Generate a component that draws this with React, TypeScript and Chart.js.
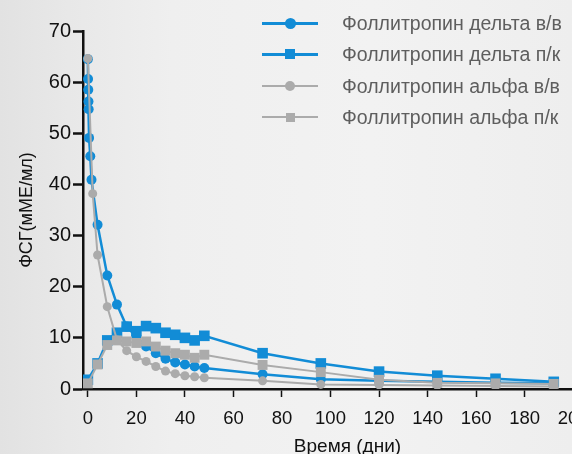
import React, { useEffect, useRef } from "react";
import { Chart, registerables } from "chart.js";
Chart.register(...registerables);

// ---- data ----
const xTickValues = [0, 20, 40, 60, 80, 100, 120, 140, 160, 180, 200];
const yTickValues = [0, 10, 20, 30, 40, 50, 60, 70];

const deltaIvDays = [0, 0.08, 0.17, 0.25, 0.33, 0.5, 1, 1.5, 4, 8, 12, 16, 20, 24, 28, 32, 36, 40, 44, 48, 72, 96, 120, 144, 168, 192];
const deltaIvValues = [64.5, 60.6, 58.5, 56.2, 54.7, 49.1, 45.5, 40.9, 32.1, 22.2, 16.5, 12.2, 10.2, 8.3, 7.0, 5.9, 5.2, 4.8, 4.4, 4.1, 2.9, 1.9, 1.6, 1.4, 1.2, 1.1];

const scDays = [0, 4, 8, 12, 16, 20, 24, 28, 32, 36, 40, 44, 48, 72, 96, 120, 144, 168, 192];
const deltaScValues = [1.8, 5.0, 9.5, 11.0, 12.2, 11.3, 12.3, 11.9, 11.0, 10.6, 10.0, 9.5, 10.4, 7.0, 5.0, 3.4, 2.6, 2.0, 1.4];
const alphaScValues = [1.1, 4.8, 8.6, 9.5, 9.3, 9.0, 9.3, 8.3, 7.5, 7.0, 6.7, 6.1, 6.7, 4.7, 3.3, 1.8, 1.2, 1.1, 1.0];

const alphaIvDays = [0, 2, 4, 8, 12, 16, 20, 24, 28, 32, 36, 40, 44, 48, 72, 96, 120, 144, 168, 192];
const alphaIvValues = [64.6, 38.2, 26.2, 16.1, 9.6, 7.5, 6.3, 5.4, 4.4, 3.5, 3.0, 2.6, 2.4, 2.2, 1.6, 0.9, 0.8, 0.7, 0.6, 0.5];

const seriesNames = [
  "Фоллитропин дельта в/в",
  "Фоллитропин дельта п/к",
  "Фоллитропин альфа в/в",
  "Фоллитропин альфа п/к",
];
const xTitle = "Время (дни)";
const yTitle = "ФСГ(мМЕ/мл)";

const BLUE = "#128cd6";
const GRAY = "#ababab";
const FONT = "'Liberation Sans', Arial, Helvetica, sans-serif";

const toPts = (xs: number[], ys: number[]) => xs.map((x, i) => ({ x, y: ys[i] }));

const legendItems = [
  { name: seriesNames[0], color: BLUE, shape: "circle", lw: 3, size: 11 },
  { name: seriesNames[1], color: BLUE, shape: "rect", lw: 3, size: 10 },
  { name: seriesNames[2], color: GRAY, shape: "circle", lw: 2, size: 10 },
  { name: seriesNames[3], color: GRAY, shape: "rect", lw: 2, size: 9 },
];
const legendTops = [23, 54, 86, 117];

export default function App() {
  const ref = useRef<HTMLCanvasElement | null>(null);

  useEffect(() => {
    if (!ref.current) return;
    const chart = new Chart(ref.current, {
      type: "line",
      data: {
        datasets: [
          {
            label: seriesNames[0],
            data: toPts(deltaIvDays, deltaIvValues),
            borderColor: BLUE,
            backgroundColor: BLUE,
            borderWidth: 2.5,
            pointStyle: "circle",
            pointRadius: 5,
            pointBorderWidth: 0,
            order: 3,
          },
          {
            label: seriesNames[1],
            data: toPts(scDays, deltaScValues),
            borderColor: BLUE,
            backgroundColor: BLUE,
            borderWidth: 2.5,
            pointStyle: "rect",
            pointRadius: 7.5,
            pointBorderWidth: 0,
            order: 2,
          },
          {
            label: seriesNames[2],
            data: toPts(alphaIvDays, alphaIvValues),
            borderColor: GRAY,
            backgroundColor: GRAY,
            borderWidth: 2,
            pointStyle: "circle",
            pointRadius: 4.5,
            pointBorderWidth: 0,
            order: 1,
          },
          {
            label: seriesNames[3],
            data: toPts(scDays, alphaScValues),
            borderColor: GRAY,
            backgroundColor: GRAY,
            borderWidth: 2,
            pointStyle: "rect",
            pointRadius: 7,
            pointBorderWidth: 0,
            order: 0,
          },
        ],
      },
      options: {
        animation: false,
        responsive: false,
        maintainAspectRatio: false,
        events: [],
        layout: { padding: { top: 31, right: 28, bottom: 0, left: 0 } },
        plugins: { legend: { display: false }, tooltip: { enabled: false } },
        elements: { line: { tension: 0 } },
        scales: {
          x: {
            type: "linear",
            position: "bottom",
            min: -2,
            max: 216,
            border: { display: true, color: "#111", width: 2.5 },
            grid: { drawOnChartArea: false, drawTicks: true, tickLength: 8, tickColor: "#111", tickWidth: 1.5 },
            ticks: {
              font: { size: 18.5, family: FONT },
              color: "#111",
              padding: 11,
              autoSkip: false,
              maxRotation: 0,
              includeBounds: false,
            },
            afterBuildTicks: (s: any) => {
              s.ticks = xTickValues.map((v) => ({ value: v }));
            },
            afterFit: (s: any) => {
              s.height = 65;
            },
            title: {
              display: true,
              text: xTitle,
              color: "#111",
              font: { size: 19, family: FONT, lineHeight: 0.8 },
              padding: { top: 0, bottom: 0 },
            },
          },
          y: {
            type: "linear",
            min: 0,
            max: 70,
            border: { display: true, color: "#111", width: 2.5 },
            grid: { drawOnChartArea: false, drawTicks: true, tickLength: 10, tickColor: "#111", tickWidth: 2.5 },
            ticks: {
              font: { size: 20, family: FONT },
              color: "#111",
              padding: 2,
              includeBounds: false,
            },
            afterBuildTicks: (s: any) => {
              s.ticks = yTickValues.map((v) => ({ value: v }));
            },
            afterFit: (s: any) => {
              s.width = 83;
            },
            title: {
              display: true,
              text: yTitle,
              color: "#111",
              font: { size: 18, family: FONT, lineHeight: 1.2 },
              padding: { top: 16, bottom: 0 },
            },
          },
        },
      },
    } as any);
    return () => chart.destroy();
  }, []);

  return (
    <div
      style={{
        position: "fixed",
        left: 0,
        top: 0,
        width: 572,
        height: 454,
        overflow: "hidden",
        background:
          "linear-gradient(90deg, #e2e2e2 0%, #e8e8e8 12%, #efefef 30%, #f2f2f2 65%, #eeeeee 100%)",
        fontFamily: FONT,
      }}
    >
      <canvas ref={ref} width={640} height={454} style={{ position: "absolute", left: 0, top: 0, width: 640, height: 454 }} />
      {legendItems.map((it, i) => (
        <div key={i} style={{ position: "absolute", left: 262, top: legendTops[i], width: 310, height: 0 }}>
          <div
            style={{
              position: "absolute",
              left: 0,
              top: -it.lw / 2,
              width: 56,
              height: it.lw,
              background: it.color,
            }}
          />
          <div
            style={{
              position: "absolute",
              left: 28 - it.size / 2,
              top: -it.size / 2,
              width: it.size,
              height: it.size,
              background: it.color,
              borderRadius: it.shape === "circle" ? "50%" : 0,
            }}
          />
          <div
            style={{
              position: "absolute",
              left: 80,
              top: -12,
              height: 24,
              lineHeight: "24px",
              fontSize: 19.5,
              color: "#5e5e5e",
              whiteSpace: "nowrap",
            }}
          >
            {it.name}
          </div>
        </div>
      ))}
    </div>
  );
}
